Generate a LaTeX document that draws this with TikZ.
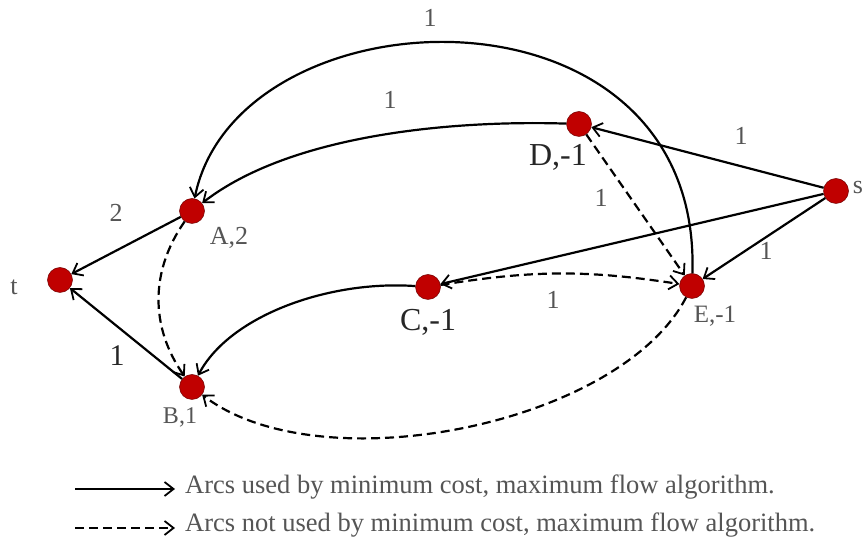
\documentclass[tikz,border=0pt]{standalone}
\usepackage{fontspec}
\setmainfont{Liberation Serif}
\usetikzlibrary{arrows.meta}
\definecolor{nodered}{HTML}{C00000}
\definecolor{noderim}{HTML}{700000}
\definecolor{labgray}{HTML}{555555}
\tikzset{
  vertex/.style={circle,fill=nodered,draw=noderim,line width=0.5pt,minimum size=25pt,inner sep=0pt},
  arc/.style={line width=2.2pt,-{Straight Barb[length=9pt,width=14pt,line width=1.8pt]}},
  unused/.style={arc,dash pattern=on 9pt off 5pt},
  lab/.style={text=labgray,font=\fontsize{26}{28}\selectfont,inner sep=0pt},
  biglab/.style={text=black!85,font=\fontsize{32}{34}\selectfont,inner sep=0pt},
  legtext/.style={text=labgray,font=\fontsize{26.5}{30}\selectfont,inner sep=0pt,anchor=base west}
}
\begin{document}
\begin{tikzpicture}[x=1pt,y=1pt]
\useasboundingbox (0,0) rectangle (862,545);
% vertices
\node[vertex] (t) at (60,265) {};
\node[vertex] (A) at (192,334) {};
\node[vertex] (B) at (192,158) {};
\node[vertex] (C) at (428,258) {};
\node[vertex] (D) at (579,421) {};
\node[vertex] (E) at (692,259) {};
\node[vertex] (s) at (836,354) {};
% vertex labels
\node[lab] (lt) at (14,258) {t};
\node[lab] (ls) at (858,357) {s};
\node[lab] (lA) at (229,307) {A,2};
\node[lab,font=\fontsize{24}{26}\selectfont] (lB) at (180,128) {B,1};
\node[biglab] (lC) at (428,223) {C,-1};
\node[biglab] (lD) at (558,388) {D,-1};
\node[lab,font=\fontsize{25}{27}\selectfont] (lE) at (715,229) {E,-1};
% used arcs
\draw[arc] (A) -- (t);
\draw[arc] (B) -- (t);
\draw[arc] (s) -- (D);
\draw[arc] (s) -- (C);
\draw[arc] (s) -- (E);
\draw[arc] (E) .. controls (702,575) and (238,558) .. (A);
\draw[arc] (D) .. controls (450,425) and (290,410) .. (A);
\draw[arc] (C) .. controls (330,265) and (230,230) .. (B);
% unused arcs
\draw[unused] (A) to[bend right=35] (B);
\draw[unused] (D) -- (E);
\draw[unused] (C) to[bend left=9] (E);
\draw[unused] (E) .. controls (620,120) and (320,60) .. (B);
% edge labels
\node[lab] (w1) at (430,527) {1};
\node[lab] (w2) at (390,445) {1};
\node[lab] (w3) at (116,332) {2};
\node[lab] (w4) at (741,409) {1};
\node[lab] (w5) at (601,347) {1};
\node[lab] (w6) at (766,294) {1};
\node[lab] (w7) at (553,245) {1};
\node[lab,text=black!85,font=\fontsize{30}{32}\selectfont] (w8) at (117,189) {1};
% legend
\coordinate (l1a) at (75,56);
\coordinate (l1b) at (175,56);
\coordinate (l2a) at (75,17);
\coordinate (l2b) at (175,17);
\draw[arc] (l1a) -- (l1b);
\draw[unused] (l2a) -- (l2b);
\node[legtext] (leg1) at (185,51) {Arcs used by minimum cost, maximum flow algorithm.};
\node[legtext] (leg2) at (185,13) {Arcs not used by minimum cost, maximum flow algorithm.};
\end{tikzpicture}
\end{document}
